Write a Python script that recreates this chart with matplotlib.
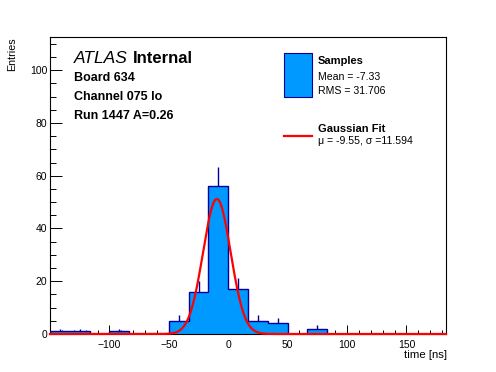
import numpy as np
import matplotlib
matplotlib.use("Agg")
import matplotlib.pyplot as plt
from matplotlib.ticker import MultipleLocator

plt.rcParams['font.family'] = ['Liberation Sans', 'DejaVu Sans']

# histogram: 20 bins from -150 to 183.33 ns
bin_edges = np.linspace(-150, 183.33, 21)
counts = [1, 1, 0, 1, 0, 0, 5, 16, 56, 17, 5, 4, 0, 2, 0, 0, 0, 0, 0, 0]

# gaussian fit
fit_amp = 51.2
fit_mu = -9.55
fit_sigma = 11.594

x_ticks = [-100, -50, 0, 50, 100, 150]
y_ticks = [0, 20, 40, 60, 80, 100]

W, H = 496, 372
fig = plt.figure(figsize=(W / 100, H / 100), dpi=100)
ax = fig.add_axes([50 / W, 1 - 334 / H, 396 / W, 297 / H])

def px(x, y):
    return x / W, 1 - y / H

fill_col = '#0099ff'
edge_col = '#000099'

counts = np.array(counts, dtype=float)
centers = 0.5 * (bin_edges[1:] + bin_edges[:-1])
errs = np.sqrt(counts)
ax.errorbar(centers, counts, yerr=errs, fmt='none', ecolor=edge_col,
            elinewidth=1.0, capsize=0, zorder=1)
ax.stairs(counts, bin_edges, fill=True, color=fill_col, zorder=2)
ax.stairs(counts, bin_edges, fill=False, color=edge_col, lw=1.0, zorder=3)

xf = np.linspace(bin_edges[0], bin_edges[-1], 800)
yf = fit_amp * np.exp(-0.5 * ((xf - fit_mu) / fit_sigma) ** 2)
ax.plot(xf, yf, color='red', lw=1.6, zorder=4, clip_on=False)

ax.set_xlim(bin_edges[0], bin_edges[-1])
ax.set_ylim(0, 112.6)
ax.set_xticks(x_ticks)
ax.set_yticks(y_ticks)
ax.xaxis.set_minor_locator(MultipleLocator(10))
ax.yaxis.set_minor_locator(MultipleLocator(5))
ax.tick_params(axis='x', which='major', direction='in', length=6.3, width=0.7,
               labelsize=7.5, pad=4)
ax.tick_params(axis='x', which='minor', direction='in', length=2.9, width=0.7)
ax.tick_params(axis='y', which='major', direction='in', length=8.6, width=0.7,
               labelsize=7.5, pad=2)
ax.tick_params(axis='y', which='minor', direction='in', length=4.3, width=0.7)
for s in ax.spines.values():
    s.set_linewidth(0.8)

fig.text(*px(12.5, 37), 'Entries', rotation=90, ha='center', va='top', fontsize=7.7)
fig.text(*px(446.5, 358), 'time [ns]', ha='right', va='baseline', fontsize=8.2)

# ATLAS label block
fig.text(*px(73.5, 63.3), 'ATLAS', style='italic', fontsize=12.5, va='baseline')
fig.text(*px(133, 63.3), 'Internal', weight='bold', fontsize=12, va='baseline')
fig.text(*px(74, 80.7), 'Board 634', weight='bold', fontsize=9, va='baseline')
fig.text(*px(74, 100), 'Channel 075 lo', weight='bold', fontsize=9, va='baseline')
fig.text(*px(74, 118.7), 'Run 1447 A=0.26', weight='bold', fontsize=9, va='baseline')

# legend drawn by hand
x0, y0 = px(283.5, 96.5)
x1, y1 = px(311.5, 53.3)
fig.patches.append(plt.Rectangle((x0, y0), x1 - x0, y1 - y0, transform=fig.transFigure,
                                 facecolor=fill_col, edgecolor=edge_col, lw=0.8))
fig.text(*px(318, 64.5), 'Samples', weight='bold', fontsize=8, va='baseline')
fig.text(*px(318, 79.5), 'Mean = -7.33', fontsize=7.6, va='baseline')
fig.text(*px(318, 93.5), 'RMS = 31.706', fontsize=7.6, va='baseline')
lx0, ly = px(283.5, 136)
lx1, _ = px(311.5, 136)
fig.add_artist(plt.Line2D([lx0, lx1], [ly, ly], color='red', lw=1.6,
                          transform=fig.transFigure))
fig.text(*px(318, 132.5), 'Gaussian Fit', weight='bold', fontsize=8, va='baseline')
fig.text(*px(318, 144.5), '\u03bc = -9.55, \u03c3 =11.594', fontsize=7.6, va='baseline')

fig.savefig('out.png', dpi=100)
